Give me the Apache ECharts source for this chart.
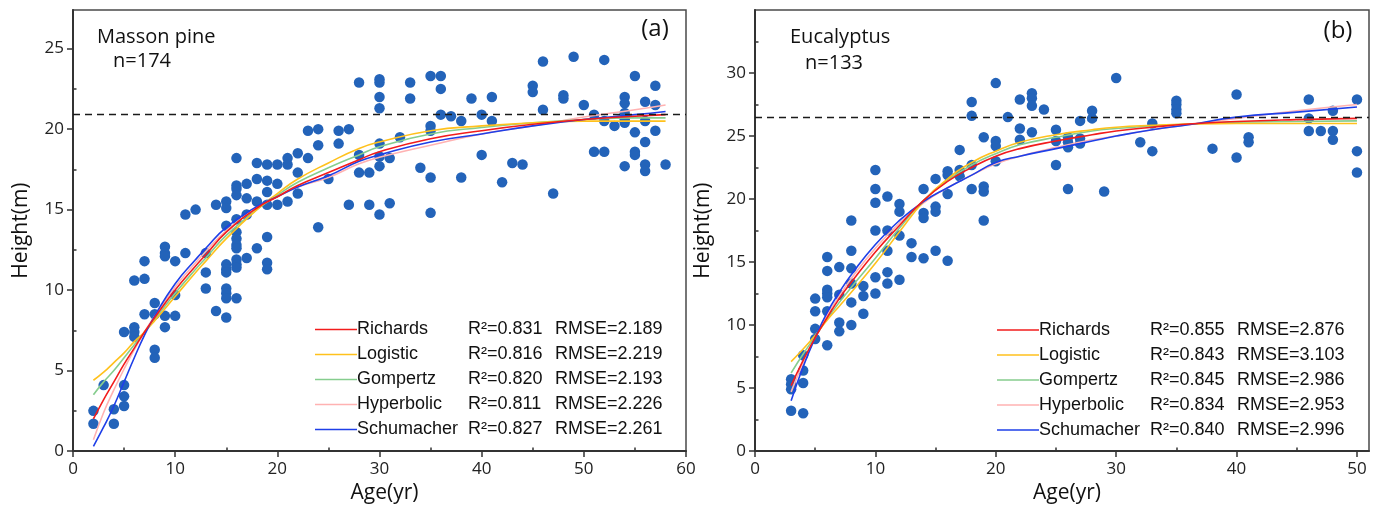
<!DOCTYPE html>
<html>
<head>
<meta charset="utf-8">
<title>Height-age growth models</title>
<script src="https://cdn.jsdelivr.net/npm/echarts@6/dist/echarts.min.js"></script>
<style>
  html, body { margin: 0; padding: 0; background: #fff; }
  #chart { width: 1378px; height: 509px; }
</style>
</head>
<body>
<div id="chart"></div>
<script>
  // ---- data ----
  const models = ['Richards', 'Logistic', 'Gompertz', 'Hyperbolic', 'Schumacher'];

  // (a) Masson pine, observed [age, height]
  const pineObs = [
    [2, 2.5], [2, 1.7], [3, 4.1], [4, 2.6], [4, 1.7],
    [5, 7.4], [5, 4.1], [5, 3.4], [5, 2.8],
    [6, 10.6], [6, 7.7], [6, 7.4], [6, 7.1],
    [7, 11.8], [7, 10.7], [7, 8.5],
    [8, 9.2], [8, 8.5], [8, 6.3], [8, 5.8],
    [9, 12.7], [9, 12.3], [9, 12.1], [9, 8.4], [9, 7.7],
    [10, 11.8], [10, 9.7], [10, 8.4],
    [11, 14.7], [11, 12.3], [12, 15.0],
    [13, 12.3], [13, 11.1], [13, 10.1],
    [14, 15.3], [14, 8.7],
    [15, 15.5], [15, 15.1], [15, 14.0], [15, 11.6], [15, 11.3], [15, 11.1], [15, 10.1], [15, 9.8], [15, 9.5], [15, 8.3],
    [16, 18.2], [16, 16.5], [16, 16.3], [16, 15.9], [16, 14.4], [16, 13.6], [16, 13.2], [16, 12.8], [16, 12.6], [16, 11.9], [16, 11.6], [16, 11.4], [16, 9.5],
    [17, 16.6], [17, 15.7], [17, 14.7], [17, 12.0],
    [18, 17.9], [18, 16.9], [18, 15.5], [18, 12.6],
    [19, 17.8], [19, 16.8], [19, 16.1], [19, 15.3], [19, 13.3], [19, 11.7], [19, 11.3],
    [20, 17.8], [20, 16.6], [20, 15.3],
    [21, 18.2], [21, 17.8], [21, 15.5],
    [22, 18.5], [22, 17.3], [22, 16.0],
    [23, 19.9], [23, 18.2],
    [24, 20.0], [24, 19.0], [24, 13.9],
    [25, 16.9], [26, 19.9], [26, 19.1], [27, 20.0], [27, 15.3],
    [28, 22.9], [28, 18.4], [28, 17.3], [29, 17.3], [29, 15.3],
    [30, 23.1], [30, 22.9], [30, 22.0], [30, 21.3], [30, 19.1], [30, 18.3], [30, 17.7], [30, 14.7],
    [31, 18.2], [31, 15.4], [32, 19.5], [33, 22.9], [33, 21.9], [34, 17.6],
    [35, 23.3], [35, 20.2], [35, 19.9], [35, 17.0], [35, 14.8],
    [36, 23.3], [36, 22.5], [36, 20.9], [37, 20.8], [38, 20.5], [38, 17.0],
    [39, 21.9], [40, 20.9], [40, 18.4], [41, 22.0], [41, 20.5],
    [42, 16.7], [43, 17.9], [44, 17.8], [45, 22.7], [45, 22.3],
    [46, 24.2], [46, 21.2], [47, 16.0], [48, 22.1], [48, 21.9], [49, 24.5], [50, 21.5],
    [51, 20.9], [51, 18.6], [52, 24.3], [52, 20.5], [52, 18.6], [53, 20.2],
    [54, 22.0], [54, 21.6], [54, 21.0], [54, 20.6], [54, 20.4], [54, 17.7],
    [55, 23.3], [55, 19.8], [55, 18.6], [55, 18.4],
    [56, 21.7], [56, 20.5], [56, 19.2], [56, 17.8], [56, 17.4],
    [57, 22.7], [57, 21.5], [57, 19.9], [58, 17.8]
  ];
  const pineRefHeight = 20.9;

  // (a) fitted curves, read at these ages
  const pineCurveAge = [2, 3, 4, 5, 6, 7, 8, 10, 12, 13, 15, 18, 20, 22, 25, 28, 30, 35, 40, 45, 50, 55, 58];
  const pineRichards   = [2.0, 3.2, 4.3, 5.4, 6.4, 7.4, 8.3, 10.0, 11.5, 12.2, 13.6, 15.1, 15.8, 16.5, 17.3, 18.1, 18.6, 19.4, 19.9, 20.3, 20.6, 20.8, 20.9];
  const pineLogistic   = [4.4, 4.9, 5.5, 6.1, 6.8, 7.4, 8.1, 9.6, 11.1, 11.8, 13.2, 15.0, 16.0, 16.9, 17.9, 18.8, 19.2, 19.9, 20.2, 20.4, 20.5, 20.5, 20.5];
  const pineGompertz   = [3.5, 4.3, 5.0, 5.8, 6.6, 7.4, 8.2, 9.8, 11.3, 12.0, 13.4, 15.0, 15.9, 16.7, 17.6, 18.4, 18.9, 19.7, 20.1, 20.4, 20.6, 20.7, 20.7];
  const pineHyperbolic = [0.7, 2.4, 3.8, 5.1, 6.3, 7.4, 8.4, 10.2, 11.7, 12.4, 13.7, 15.1, 15.8, 16.4, 17.0, 17.85, 18.25, 19.0, 19.7, 20.2, 20.75, 21.2, 21.5];
  const pineSchumacher = [0.3, 1.5, 2.8, 4.3, 5.8, 7.2, 8.4, 10.4, 11.9, 12.6, 13.9, 15.2, 15.8, 16.4, 17.1, 18.0, 18.4, 19.2, 19.7, 20.2, 20.6, 20.9, 21.1];
  const pineR2   = ['0.831', '0.816', '0.820', '0.811', '0.827'];
  const pineRMSE = ['2.189', '2.219', '2.193', '2.226', '2.261'];

  // (b) Eucalyptus, observed [age, height]
  const eucObs = [
    [3, 5.7], [3, 5.3], [3, 4.9], [3, 3.2],
    [4, 7.6], [4, 6.4], [4, 5.4], [4, 3.0],
    [5, 12.1], [5, 11.1], [5, 9.7], [5, 8.9],
    [6, 15.4], [6, 14.3], [6, 12.8], [6, 12.5], [6, 12.2], [6, 11.1], [6, 8.4],
    [7, 14.6], [7, 12.4], [7, 10.2], [7, 9.5],
    [8, 18.3], [8, 15.9], [8, 14.5], [8, 13.3], [8, 11.8], [8, 10.0],
    [9, 13.1], [9, 12.3], [9, 10.9],
    [10, 22.3], [10, 20.8], [10, 19.7], [10, 17.5], [10, 13.8], [10, 12.5],
    [11, 20.2], [11, 17.5], [11, 15.9], [11, 14.2], [11, 13.3],
    [12, 19.6], [12, 19.0], [12, 17.1], [12, 13.6],
    [13, 16.5], [13, 15.4],
    [14, 20.8], [14, 18.9], [14, 18.5], [14, 15.3],
    [15, 21.6], [15, 19.4], [15, 19.0], [15, 15.9],
    [16, 22.2], [16, 21.9], [16, 20.4], [16, 15.1],
    [17, 23.9], [17, 22.3], [17, 21.8],
    [18, 27.7], [18, 26.6], [18, 22.7], [18, 20.8],
    [19, 24.9], [19, 21.0], [19, 20.6], [19, 18.3],
    [20, 29.2], [20, 24.6], [20, 24.2], [20, 23.0],
    [21, 26.5], [22, 27.9], [22, 25.6], [22, 24.7],
    [23, 28.4], [23, 28.0], [23, 27.4], [23, 25.3], [24, 27.1],
    [25, 25.5], [25, 24.6], [25, 22.7],
    [26, 24.9], [26, 24.5], [26, 24.1], [26, 20.8],
    [27, 26.2], [27, 24.8], [27, 24.4], [28, 27.0], [28, 26.4],
    [29, 20.6], [30, 29.6], [32, 24.5], [33, 26.0], [33, 23.8],
    [35, 27.8], [35, 27.5], [35, 27.1], [35, 26.8],
    [38, 24.0], [40, 28.3], [40, 23.3], [41, 24.9], [41, 24.5],
    [46, 27.9], [46, 26.4], [46, 25.4], [47, 25.4],
    [48, 27.0], [48, 25.4], [48, 24.7],
    [50, 27.9], [50, 23.8], [50, 22.1]
  ];
  const eucRefHeight = 26.5;

  const eucCurveAge = [3, 4, 5, 6, 7, 8, 10, 12, 14, 16, 18, 20, 22, 25, 28, 30, 33, 36, 40, 45, 50];
  const eucRichards   = [5.2, 7.2, 9.0, 10.6, 12.1, 13.4, 15.8, 17.9, 19.9, 21.4, 22.5, 23.4, 24.0, 24.6, 25.1, 25.4, 25.7, 25.95, 26.15, 26.3, 26.4];
  const eucLogistic   = [7.1, 8.1, 9.2, 10.4, 11.5, 12.6, 14.9, 17.4, 19.8, 21.6, 22.9, 23.8, 24.5, 25.1, 25.5, 25.7, 25.85, 25.95, 26.0, 26.0, 26.0];
  const eucGompertz   = [6.2, 7.7, 9.1, 10.5, 11.8, 13.0, 15.3, 17.7, 19.9, 21.5, 22.7, 23.6, 24.3, 24.9, 25.4, 25.6, 25.8, 25.95, 26.1, 26.15, 26.2];
  const eucHyperbolic = [4.7, 7.0, 9.0, 10.8, 12.3, 13.7, 16.1, 18.1, 19.7, 20.9, 21.9, 22.8, 23.4, 24.1, 24.7, 25.0, 25.5, 25.9, 26.4, 27.0, 27.5];
  const eucSchumacher = [4.0, 6.7, 9.0, 11.0, 12.6, 14.0, 16.4, 18.3, 19.8, 20.9, 21.9, 22.9, 23.4, 24.0, 24.6, 25.0, 25.5, 25.9, 26.5, 26.9, 27.3];
  const eucR2   = ['0.855', '0.843', '0.845', '0.834', '0.840'];
  const eucRMSE = ['2.876', '3.103', '2.986', '2.953', '2.996'];

  // tick labels
  const pineXTicks = [0, 10, 20, 30, 40, 50, 60];
  const pineXMinor = [5, 15, 25, 35, 45, 55];
  const pineYTicks = [0, 5, 10, 15, 20, 25];
  const pineYMinor = [2.5, 7.5, 12.5, 17.5, 22.5];
  const eucXTicks = [0, 10, 20, 30, 40, 50];
  const eucXMinor = [5, 15, 25, 35, 45];
  const eucYTicks = [0, 5, 10, 15, 20, 25, 30];
  const eucYMinor = [2.5, 7.5, 12.5, 17.5, 22.5, 27.5, 32.5];

  // ---- styling ----
  const colors = ['#f21c1c', '#ffc11c', '#86cd8e', '#ffb2b2', '#1e3fe8'];
  const drawOrder = [3, 2, 1, 4, 0]; // pink underneath, red on top
  const tickFont = 'Open Sans';
  const legendFont = 'Liberation Sans';
  const dotColor = '#2363b9';

  const chart = echarts.init(document.getElementById('chart'));

  function mainX(grid, max, ticks, name) {
    return {
      type: 'value', gridIndex: grid, min: 0, max: max, interval: 10,
      name: name, nameLocation: 'middle', nameGap: 24,
      nameTextStyle: { fontFamily: tickFont, fontSize: 21, color: '#111', padding: [0, 0, 0, 10] },
      axisLine: { show: true, onZero: false, lineStyle: { color: '#333', width: 2 } },
      axisTick: { show: true, length: 6, customValues: ticks, lineStyle: { color: '#333', width: 1.5 } },
      axisLabel: { customValues: ticks, margin: 10, fontFamily: tickFont, fontSize: 17, color: '#222' },
      splitLine: { show: false }
    };
  }
  function minorX(grid, max, ticks) {
    return {
      type: 'value', gridIndex: grid, min: 0, max: max,
      axisLine: { show: false },
      axisTick: { show: true, length: 3.5, customValues: ticks, lineStyle: { color: '#333', width: 1.5 } },
      axisLabel: { show: false },
      splitLine: { show: false }
    };
  }
  function mainY(grid, max, ticks, name) {
    return {
      type: 'value', gridIndex: grid, min: 0, max: max, interval: 5,
      name: name, nameLocation: 'middle', nameGap: 41,
      nameTextStyle: { fontFamily: tickFont, fontSize: 21, color: '#111' },
      axisLine: { show: true, onZero: false, lineStyle: { color: '#333', width: 2 } },
      axisTick: { show: true, length: 6, customValues: ticks, lineStyle: { color: '#333', width: 1.5 } },
      axisLabel: { customValues: ticks, margin: 9, fontFamily: tickFont, fontSize: 17, color: '#222' },
      splitLine: { show: false }
    };
  }
  function minorY(grid, max, ticks) {
    return {
      type: 'value', gridIndex: grid, min: 0, max: max,
      axisLine: { show: false },
      axisTick: { show: true, length: 3.5, customValues: ticks, lineStyle: { color: '#333', width: 1.5 } },
      axisLabel: { show: false },
      splitLine: { show: false }
    };
  }

  function panelSeries(axis, obs, ref, ages, curves) {
    const out = [{
      type: 'scatter', xAxisIndex: axis, yAxisIndex: axis, data: obs,
      symbolSize: 10.5, z: 2,
      itemStyle: { color: dotColor, opacity: 1 },
      markLine: {
        silent: true, symbol: 'none', label: { show: false },
        lineStyle: { color: '#1a1a1a', type: [7, 5], width: 1.3 },
        data: [{ yAxis: ref }]
      }
    }];
    drawOrder.forEach(i => {
      out.push({
        type: 'line', name: models[i], xAxisIndex: axis, yAxisIndex: axis,
        data: ages.map((a, k) => [a, curves[i][k]]),
        smooth: true, showSymbol: false, z: 3,
        lineStyle: { color: colors[i], width: 1.6 }
      });
    });
    return out;
  }

  function legendBlock(x0, y0, r2, rmse) {
    const els = [];
    models.forEach((m, i) => {
      const y = y0 + i * 25;
      els.push({ type: 'line', silent: true, shape: { x1: x0, y1: y, x2: x0 + 42, y2: y },
        style: { stroke: colors[i], lineWidth: 1.6 } });
      els.push({ type: 'text', x: x0 + 42, y: y,
        style: { text: m, fontFamily: legendFont, fontSize: 18, fill: '#111', align: 'left', verticalAlign: 'middle' } });
      els.push({ type: 'text', x: x0 + 153, y: y,
        style: { text: 'R²=' + r2[i], fontFamily: legendFont, fontSize: 18, fill: '#111', align: 'left', verticalAlign: 'middle' } });
      els.push({ type: 'text', x: x0 + 240, y: y,
        style: { text: 'RMSE=' + rmse[i], fontFamily: legendFont, fontSize: 18, fill: '#111', align: 'left', verticalAlign: 'middle' } });
    });
    return els;
  }

  function label(x, y, text, size, align) {
    return { type: 'text', x: x, y: y, silent: true,
      style: { text: text, fontFamily: tickFont, fontSize: size, fill: '#111', align: align || 'left', verticalAlign: 'middle' } };
  }

  const pineCurves = [pineRichards, pineLogistic, pineGompertz, pineHyperbolic, pineSchumacher];
  const eucCurves = [eucRichards, eucLogistic, eucGompertz, eucHyperbolic, eucSchumacher];

  chart.setOption({
    animation: false,
    backgroundColor: '#fff',
    grid: [
      { left: 73, right: 692, top: 10, bottom: 52, show: true, borderColor: '#4a4a4a', borderWidth: 1.5 },
      { left: 755, right: 9, top: 10, bottom: 52, show: true, borderColor: '#4a4a4a', borderWidth: 1.5 }
    ],
    xAxis: [
      mainX(0, 60, pineXTicks, 'Age(yr)'),
      mainX(1, 51, eucXTicks, 'Age(yr)'),
      minorX(0, 60, pineXMinor),
      minorX(1, 51, eucXMinor)
    ],
    yAxis: [
      mainY(0, 27.4, pineYTicks, 'Height(m)'),
      mainY(1, 35, eucYTicks, 'Height(m)'),
      minorY(0, 27.4, pineYMinor),
      minorY(1, 35, eucYMinor)
    ],
    series: [].concat(
      panelSeries(0, pineObs, pineRefHeight, pineCurveAge, pineCurves),
      panelSeries(1, eucObs, eucRefHeight, eucCurveAge, eucCurves)
    ),
    graphic: [].concat(
      legendBlock(315, 329.5, pineR2, pineRMSE),
      legendBlock(997, 330, eucR2, eucRMSE),
      [
        label(97, 37, 'Masson pine', 20),
        label(113, 61, 'n=174', 20),
        label(655, 29, '(a)', 24, 'center'),
        label(790, 37, 'Eucalyptus', 20),
        label(805, 63, 'n=133', 20),
        label(1338, 31, '(b)', 24, 'center')
      ]
    )
  });
</script>
</body>
</html>
